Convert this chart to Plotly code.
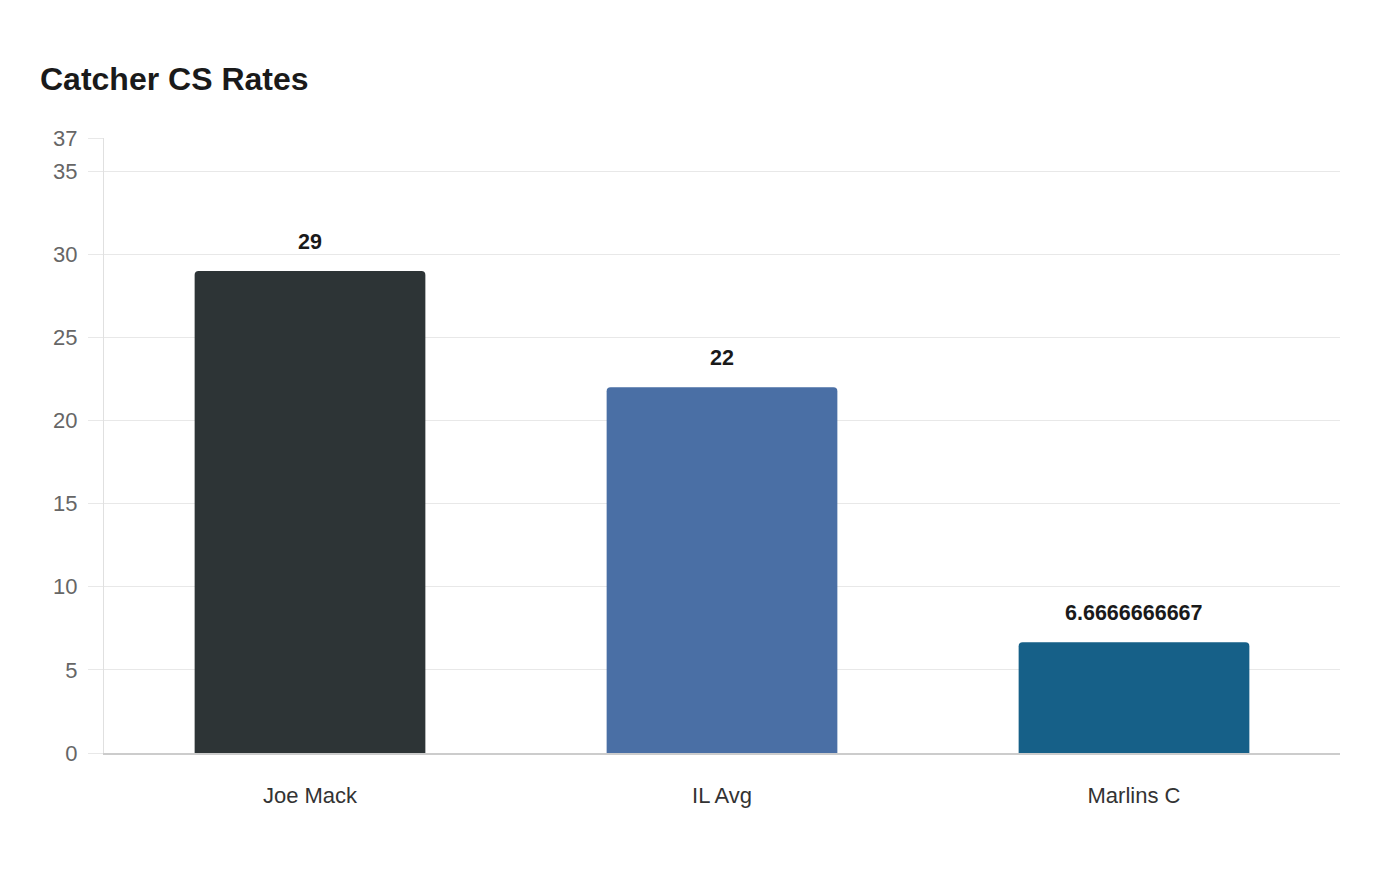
import plotly.graph_objects as go

categories = ["Joe Mack", "IL Avg", "Marlins C"]
values = [29, 22, 6.6666666667]
bar_colors = ["#2d3436", "#4a6fa5", "#166088"]
label_texts = ["29", "22", "6.6666666667"]
y_ticks = [0, 5, 10, 15, 20, 25, 30, 35, 37]

FONT = "Liberation Sans, Arial, sans-serif"

fig = go.Figure()
fig.add_trace(go.Bar(
    x=categories, y=values,
    marker=dict(color=bar_colors, cornerradius=4, line=dict(width=0)),
    hoverinfo="skip",
))

for c, v, t in zip(categories, values, label_texts):
    fig.add_annotation(x=c, y=v, text=f"<b>{t}</b>", showarrow=False,
                       yshift=29, font=dict(family=FONT, size=21.5, color="#1a1a1a"))

fig.update_layout(
    width=1400, height=880,
    paper_bgcolor="white", plot_bgcolor="white",
    margin=dict(l=96, r=68, t=130, b=135),
    title=dict(text="<b>Catcher CS Rates</b>", x=32/1400, xanchor="left",
               y=1-71/880, yanchor="middle",
               font=dict(family=FONT, size=32, color="#1a1a1a")),
    bargap=0.44,
    showlegend=False,
    font=dict(family=FONT),
)
fig.update_yaxes(
    range=[0, 37], tickvals=y_ticks, ticktext=[str(v) for v in y_ticks],
    showgrid=True, gridcolor="#e8e8e8", gridwidth=1,
    ticks="outside", ticklen=15, tickcolor="#e8e8e8",
    showline=True, linecolor="#e0e0e0", linewidth=1,
    zeroline=False,
    tickfont=dict(family=FONT, size=22, color="#666666"),
    ticklabelstandoff=6,
)
fig.update_xaxes(
    showgrid=False, showline=True, linecolor="#cccccc", linewidth=1.5,
    ticks="", tickfont=dict(family=FONT, size=22, color="#333333"),
    ticklabelstandoff=22,
)

fig.write_html("out.html")
